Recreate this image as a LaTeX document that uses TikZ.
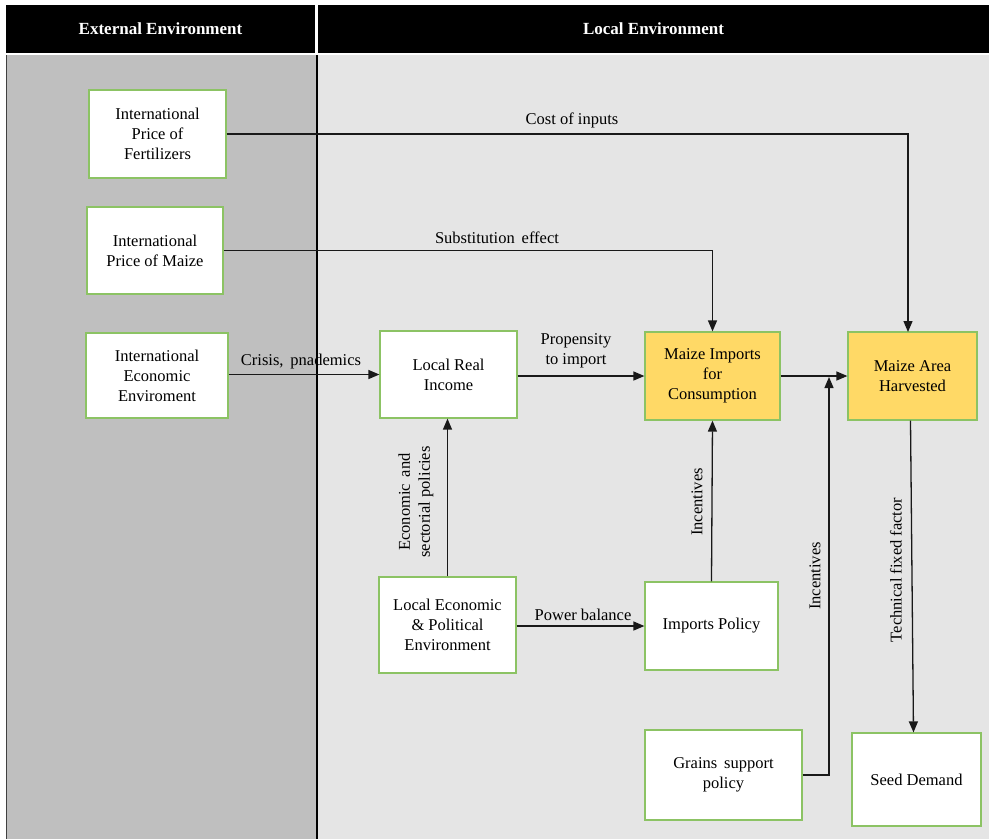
\documentclass[tikz,border=0pt]{standalone}
\usepackage{fontspec}
\setmainfont{Liberation Serif}
\usetikzlibrary{arrows.meta}
\definecolor{extgray}{RGB}{191,191,191}
\definecolor{locgray}{RGB}{229,229,229}
\definecolor{boxgreen}{RGB}{140,195,100}
\definecolor{maizeyel}{RGB}{255,217,102}
\definecolor{linec}{RGB}{25,25,25}
\begin{document}
\begin{tikzpicture}[x=1pt,y=-1pt,
  box/.style={draw=boxgreen,line width=1.2pt,fill=white,align=center,inner sep=2pt,
    font=\fontsize{16.5}{20}\selectfont},
  ybox/.style={box,fill=maizeyel},
  hdr/.style={fill=black,text=white,font=\fontsize{17}{20}\selectfont\bfseries,inner sep=0pt},
  lbl/.style={font=\fontsize{16.5}{20}\selectfont,align=center,inner sep=0pt},
  conn/.style={draw=linec,line width=1.3pt,-{Triangle[length=11pt,width=9pt]}}]
\useasboundingbox (0,0) rectangle (989,839);
\fill[white] (0,0) rectangle (989,839);
% panels
\fill[extgray] (6,55) rectangle (316,839);
\fill[locgray] (318,55) rectangle (989,839);
\draw[line width=1.5pt,black!75] (6.5,55) -- (6.5,839);
\draw[line width=2pt,black] (317,55) -- (317,839);
% headers
\node[hdr,minimum width=309pt,minimum height=48pt] (hext) at (160.5,29) {External Environment};
\node[hdr,minimum width=671pt,minimum height=48pt] (hloc) at (653.5,29) {Local Environment};
% nodes
\node[box,minimum width=137pt,minimum height=88pt] (fert) at (157.5,134) {International\\Price of\\Fertilizers};
\node[box,minimum width=136pt,minimum height=87pt] (pmz) at (155,250.5) {International\\Price of Maize};
\node[box,minimum width=142pt,minimum height=85pt] (iee) at (157,375.5) {International\\Economic\\Enviroment};
\node[box,minimum width=137pt,minimum height=87pt] (lri) at (448.5,374.5) {Local Real\\Income};
\node[ybox,minimum width=135pt,minimum height=88pt] (mic) at (712.5,376) {Maize Imports\\for\\Consumption};
\node[ybox,minimum width=129pt,minimum height=88pt] (mah) at (912.5,376) {Maize Area\\Harvested};
\node[box,minimum width=137pt,minimum height=96pt] (lep) at (447.5,625) {Local Economic\\\& Political\\Environment};
\node[box,minimum width=133pt,minimum height=88pt] (ipo) at (711.5,626) {Imports Policy};
\node[box,minimum width=157pt,minimum height=90pt] (gsp) at (723.5,775) {Grains\, support\\policy};
\node[box,minimum width=129pt,minimum height=93pt] (sdm) at (916.5,779.5) {Seed Demand};
% connectors
\coordinate (fertbend) at (908,134);
\coordinate (fertend) at (908,332);
\draw[conn] (fert.east) -- (fertbend) -- (fertend);
\node[lbl] (l1) at (572,120) {Cost of inputs};
\draw[conn] (pmz.east) -| (mic.north);
\node[lbl] (l2) at (497,238) {Substitution\, effect};
\draw[conn] (iee.east |- lri.west) -- (lri.west);
\node[lbl] (l3) at (301,362) {Crisis,\, pnademics};
\draw[conn] (lri.east |- mic.west) -- (mic.west);
\node[lbl] (l4) at (576,351) {Propensity\\to import};
\draw[conn] (mic.east) -- (mah.west);
\coordinate (gend) at (829,377);
\draw[conn] (gsp.east) -| (gend);
\node[lbl,rotate=90] (l5) at (815,576) {Incentives};
\draw[conn] (lep.north) -- (lep.north |- lri.south);
\node[lbl,rotate=90] (l6) at (416,502) {Economic\, and\\sectorial policies};
\draw[conn] (lep.east |- ipo.west) -- (ipo.west);
\node[lbl] (l7) at (583,615) {Power balance};
\draw[conn] (ipo.north) -- (mic.south);
\node[lbl,rotate=90] (l8) at (697,502) {Incentives};
\draw[conn] ([xshift=-2pt]mah.south) -- ([xshift=-3pt]sdm.north);
\node[lbl,rotate=90] (l9) at (896,570) {Technical fixed factor};
\end{tikzpicture}
\end{document}
